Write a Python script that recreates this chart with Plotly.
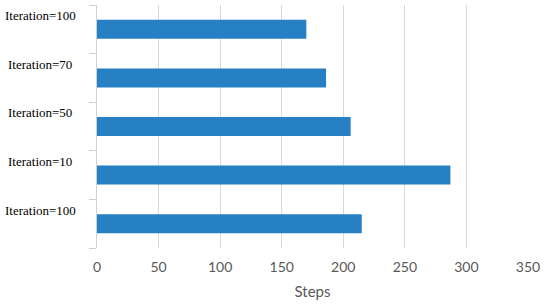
import plotly.graph_objects as go

# bottom to top, as drawn in the chart
labels = ['Iteration=100', 'Iteration=10', 'Iteration=50', 'Iteration=70', 'Iteration=100']
steps = [215, 287, 206, 186, 170]
x_ticks = [0, 50, 100, 150, 200, 250, 300, 350]

pos = list(range(len(labels)))

fig = go.Figure()
fig.add_trace(go.Bar(
    x=steps, y=pos, orientation='h',
    marker=dict(color='#2780c3', line=dict(width=0)),
    width=0.39,
))

# category labels sit above each bar, centred in the left margin
for p, lab in zip(pos, labels):
    fig.add_annotation(
        x=-0.132, xref='paper', y=p + 0.28, yref='y',
        text=lab, showarrow=False, xanchor='center', yanchor='middle',
        font=dict(family='Liberation Serif', size=13, color='#000000'),
    )

fig.update_layout(
    width=550, height=305,
    margin=dict(l=97, r=22, t=5, b=57, autoexpand=False),
    plot_bgcolor='white', paper_bgcolor='white',
    showlegend=False,
    xaxis=dict(
        range=[0, 350], tickvals=x_ticks, automargin=False,
        showgrid=True, gridcolor='#d9d9d9', gridwidth=1,
        zeroline=False, showline=False, ticks='', ticklabelstandoff=9,
        tickfont=dict(family='Lato', size=14, color='#595959'),
        title=dict(text='Steps', font=dict(family='Lato', size=15, color='#595959'), standoff=12),
    ),
    yaxis=dict(
        range=[-0.5, len(labels) - 0.5], automargin=False,
        tickvals=[p - 0.5 for p in pos] + [len(labels) - 0.5],
        showticklabels=False, ticks='outside', ticklen=7, tickcolor='#d0d0d0',
        showline=True, linecolor='#d0d0d0', linewidth=1,
        showgrid=False, zeroline=False,
    ),
)

# the page body has a default 8px margin; drop it so the figure sits at 0,0
fig.write_html('out.html', config={'displayModeBar': False},
               post_script="document.body.style.margin='0';")
